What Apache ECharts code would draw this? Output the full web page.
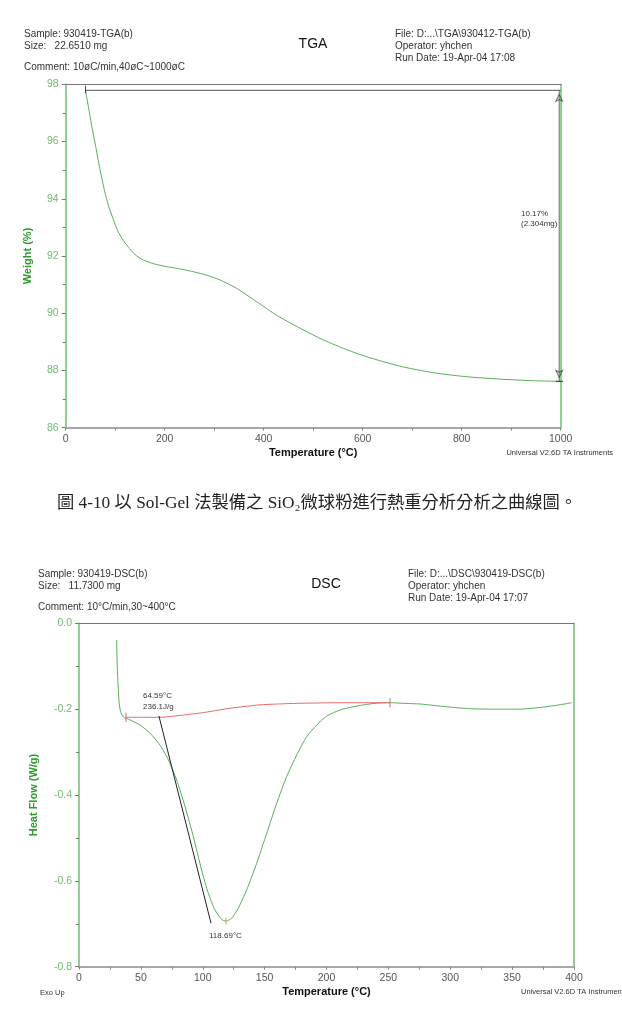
<!DOCTYPE html>
<html>
<head>
<meta charset="utf-8">
<script src="https://cdn.jsdelivr.net/npm/echarts@6/dist/echarts.min.js"></script>
<style>
html,body{margin:0;padding:0;background:#fff;}
#c{width:622px;height:1011px;}
</style>
</head>
<body>
<div id="c"></div>
<script>
// ---------------- DATA ----------------
// TGA: temperature (°C) vs weight (%)
const tgaTemp   = [40, 46, 52, 60, 69, 79, 86, 93, 100, 106, 116, 127, 137, 150, 164, 180, 200, 220, 240, 258, 285, 312, 345, 386, 426, 473, 514, 561, 608, 675, 743, 810, 877, 945, 1000];
const tgaWeight = [97.79, 97.2, 96.6, 95.88, 95.05, 94.24, 93.78, 93.43, 93.1, 92.85, 92.55, 92.3, 92.1, 91.92, 91.81, 91.72, 91.64, 91.58, 91.52, 91.45, 91.33, 91.16, 90.87, 90.40, 89.93, 89.48, 89.12, 88.77, 88.48, 88.15, 87.92, 87.78, 87.70, 87.64, 87.62];
// TGA step annotation
const tgaStepStartT = 40;
const tgaStepTopW = 97.79;
const tgaStepMarkerT = 997;
const tgaStepBottomW = 87.62;

// DSC: temperature (°C) vs heat flow (W/g)
const dscTemp = [30.4, 30.8, 31.5, 32.3, 33.5, 35.8, 41.2, 49.3, 57.4, 65.5, 72.2, 78.9, 85.7, 92.4, 99.1, 104.5, 109.9, 115.3, 118.8, 123.4, 128.7, 135.5, 143.6, 151.7, 159.8, 167.8, 175.9, 184, 192.1, 200.2, 210.9, 219, 230, 240.6, 251.3, 262, 275.6, 289, 302.5, 316, 329.5, 343, 356.4, 372.5, 386, 398.1];
const dscHeat = [-0.039, -0.09, -0.14, -0.18, -0.205, -0.218, -0.225, -0.237, -0.256, -0.284, -0.318, -0.365, -0.427, -0.497, -0.575, -0.629, -0.668, -0.690, -0.694, -0.687, -0.664, -0.621, -0.559, -0.489, -0.419, -0.357, -0.307, -0.264, -0.237, -0.216, -0.202, -0.196, -0.19, -0.186, -0.185, -0.1865, -0.188, -0.192, -0.196, -0.199, -0.2, -0.2, -0.2, -0.196, -0.191, -0.185];
// DSC integration baseline
const dscBaseTemp = [38, 65.5, 84.3, 100.5, 122, 146.3, 175.9, 213.6, 251.3];
const dscBaseHeat = [-0.219, -0.219, -0.2137, -0.208, -0.198, -0.19, -0.1865, -0.185, -0.185];
// DSC onset tangent & peak
const dscOnset = [64.59, -0.216];
const dscTangentEnd = [106.7, -0.699];
const dscPeak = [118.69, -0.694];

// tick settings
const tgaXTicks = {min: 0, max: 1000, interval: 200};
const tgaYTicks = {min: 86, max: 98, interval: 2};
const dscXTicks = {min: 0, max: 400, interval: 50};
const dscYTicks = {min: -0.8, max: 0.0, interval: 0.2};

// ---------------- STYLE ----------------
const GREEN = '#55b055';
const GREEN_AXIS = '#6cc06c';
const GREEN_LABEL = '#72b872';
const GREEN_NAME = '#2f9a2f';
const RED = '#e36a6a';
const FONT = '"Liberation Sans", Arial, sans-serif';

const zip = (a, b) => a.map((v, i) => [v, b[i]]);

function bottomAxis(grid, t, name) {
  return {
    type: 'value', gridIndex: grid, position: 'bottom',
    min: t.min, max: t.max, interval: t.interval,
    axisLine: {show: true, onZero: false, lineStyle: {color: '#a8a8a8', width: 2}},
    axisTick: {show: true, length: 3, lineStyle: {color: '#888'}},
    minorTick: {show: true, splitNumber: 2, length: 3, lineStyle: {color: '#888'}},
    splitLine: {show: false},
    axisLabel: {color: '#555', fontSize: 10.5, fontFamily: FONT, margin: 6, formatter: v => String(v)},
    name: name, nameLocation: 'middle', nameGap: 20,
    nameTextStyle: {color: '#111', fontWeight: 'bold', fontSize: 11, fontFamily: FONT}
  };
}
function topAxis(grid, t) {
  return {
    type: 'value', gridIndex: grid, position: 'top',
    min: t.min, max: t.max, interval: t.interval,
    axisLine: {show: true, onZero: false, lineStyle: {color: '#777', width: 1}},
    axisTick: {show: false}, axisLabel: {show: false}, splitLine: {show: false}
  };
}
function leftAxis(grid, t, name, gap, fmt) {
  return {
    type: 'value', gridIndex: grid, position: 'left',
    min: t.min, max: t.max, interval: t.interval,
    axisLine: {show: true, onZero: false, lineStyle: {color: GREEN_AXIS, width: 1.5}},
    axisTick: {show: true, length: 4, lineStyle: {color: '#777'}},
    minorTick: {show: true, splitNumber: 2, length: 3, lineStyle: {color: '#777'}},
    splitLine: {show: false},
    axisLabel: {color: GREEN_LABEL, fontSize: 10.5, fontFamily: FONT, margin: 7, formatter: fmt},
    name: name, nameLocation: 'middle', nameGap: gap, nameRotate: 90,
    nameTextStyle: {color: GREEN_NAME, fontWeight: 'bold', fontSize: 11, fontFamily: FONT}
  };
}
function rightAxis(grid, t) {
  return {
    type: 'value', gridIndex: grid, position: 'right',
    min: t.min, max: t.max, interval: t.interval,
    axisLine: {show: true, onZero: false, lineStyle: {color: GREEN_AXIS, width: 1.5}},
    axisTick: {show: false}, axisLabel: {show: false}, splitLine: {show: false}
  };
}

function txt(x, y, text, size, opt) {
  opt = opt || {};
  return {
    type: 'text', x: x, y: y, silent: true, z: 100,
    style: {
      text: text, fill: opt.color || '#333', fontSize: size,
      fontFamily: opt.family || FONT, fontWeight: opt.weight || 'normal',
      textAlign: opt.align || 'left', align: opt.align || 'left',
      textVerticalAlign: 'middle', verticalAlign: 'middle'
    }
  };
}

function seg(name, xi, yi, pts, color, width, extra) {
  return Object.assign({
    name: name, type: 'line', xAxisIndex: xi, yAxisIndex: yi,
    data: pts, symbol: 'none', silent: true, animation: false,
    lineStyle: {color: color, width: width}
  }, extra || {});
}

const chart = echarts.init(document.getElementById('c'), null, {renderer: 'canvas'});

const option = {
  backgroundColor: '#fff',
  animation: false,
  grid: [
    {left: 65.7, right: 61.3, top: 84.3, height: 343.4, containLabel: false},
    {left: 79, right: 48, top: 623.3, height: 343.4, containLabel: false}
  ],
  xAxis: [
    bottomAxis(0, tgaXTicks, 'Temperature (°C)'),
    topAxis(0, tgaXTicks),
    bottomAxis(1, dscXTicks, 'Temperature (°C)'),
    topAxis(1, dscXTicks)
  ],
  yAxis: [
    leftAxis(0, tgaYTicks, 'Weight (%)', 32, v => String(Math.round(v))),
    rightAxis(0, tgaYTicks),
    leftAxis(1, dscYTicks, 'Heat Flow (W/g)', 40, v => v.toFixed(1)),
    rightAxis(1, dscYTicks)
  ],
  series: [
    // TGA curve
    seg('TGA', 0, 0, zip(tgaTemp, tgaWeight), GREEN, 1, {smooth: 0.2, z: 5}),
    // TGA step annotation
    seg('stepTop', 0, 0, [[tgaStepStartT, tgaStepTopW], [tgaXTicks.max, tgaStepTopW]], '#555', 1, {z: 6}),
    seg('stepStartTick', 0, 0, [[tgaStepStartT, tgaStepTopW + 0.16], [tgaStepStartT, tgaStepTopW - 0.1]], '#444', 1, {z: 6}),
    seg('stepVert', 0, 0, [[tgaStepMarkerT, tgaStepTopW], [tgaStepMarkerT, tgaStepBottomW]], '#666', 1, {z: 6}),
    seg('stepBottomTick', 0, 0, [[tgaStepMarkerT - 7, tgaStepBottomW], [tgaStepMarkerT + 8, tgaStepBottomW]], '#333', 1, {z: 6}),
    {
      name: 'arrows', type: 'scatter', xAxisIndex: 0, yAxisIndex: 0, silent: true, z: 7,
      symbol: 'arrow', symbolSize: [5, 7],
      itemStyle: {color: 'rgba(0,0,0,0)', borderColor: '#444', borderWidth: 1},
      data: [
        {value: [tgaStepMarkerT, tgaStepTopW], symbolRotate: 0, symbolOffset: [0, 4]},
        {value: [tgaStepMarkerT, tgaStepBottomW], symbolRotate: 180, symbolOffset: [0, -4]}
      ]
    },
    // DSC curve
    seg('DSC', 2, 2, zip(dscTemp, dscHeat), GREEN, 1, {smooth: 0.2, z: 5}),
    // DSC baseline
    seg('baseline', 2, 2, zip(dscBaseTemp, dscBaseHeat), RED, 1, {smooth: 0.2, z: 6}),
    seg('baseStartTick', 2, 2, [[dscBaseTemp[0], dscBaseHeat[0] + 0.011], [dscBaseTemp[0], dscBaseHeat[0] - 0.011]], RED, 1, {z: 6}),
    seg('baseEndTick', 2, 2, [[dscBaseTemp[dscBaseTemp.length - 1], dscBaseHeat[dscBaseHeat.length - 1] + 0.011], [dscBaseTemp[dscBaseTemp.length - 1], dscBaseHeat[dscBaseHeat.length - 1] - 0.011]], RED, 1, {z: 6}),
    seg('peakTick', 2, 2, [[dscPeak[0], dscPeak[1] + 0.008], [dscPeak[0], dscPeak[1] - 0.008]], '#e8907a', 1, {z: 6}),
    // onset tangent
    seg('tangent', 2, 2, [dscOnset, dscTangentEnd], '#222', 1, {z: 7})
  ],
  graphic: [
    // TGA header
    txt(24, 34, 'Sample: 930419-TGA(b)', 10),
    txt(24, 46, 'Size:   22.6510 mg', 10),
    txt(24, 67, 'Comment: 10øC/min,40øC~1000øC', 10),
    txt(313, 44, 'TGA', 14, {align: 'center', color: '#111'}),
    txt(395, 34, 'File: D:...\\TGA\\930412-TGA(b)', 10),
    txt(395, 46, 'Operator: yhchen', 10),
    txt(395, 58, 'Run Date: 19-Apr-04 17:08', 10),
    txt(521, 213.5, '10.17%', 8),
    txt(521, 224, '(2.304mg)', 8),
    txt(613, 452.5, 'Universal V2.6D TA Instruments', 7.5, {align: 'right'}),
    // caption
    {
      type: 'text', x: 317, y: 503, silent: true, z: 100,
      style: {
        text: '圖 4-10 以 Sol-Gel 法製備之 SiO₂微球粉進行熱重分析分析之曲線圖。',
        fill: '#222', fontSize: 17.3,
        fontFamily: '"Liberation Serif", "Noto Sans CJK TC", serif',
        textAlign: 'center', align: 'center', textVerticalAlign: 'middle', verticalAlign: 'middle'
      }
    },
    // DSC header
    txt(38, 574, 'Sample: 930419-DSC(b)', 10),
    txt(38, 586, 'Size:   11.7300 mg', 10),
    txt(38, 607, 'Comment: 10°C/min,30~400°C', 10),
    txt(326, 584, 'DSC', 14, {align: 'center', color: '#111'}),
    txt(408, 574, 'File: D:...\\DSC\\930419-DSC(b)', 10),
    txt(408, 586, 'Operator: yhchen', 10),
    txt(408, 598, 'Run Date: 19-Apr-04 17:07', 10),
    txt(143, 696, '64.59°C', 8),
    txt(143, 706.5, '236.1J/g', 8),
    txt(209, 936, '118.69°C', 8),
    txt(40, 992.5, 'Exo Up', 7.5),
    txt(521, 992, 'Universal V2.6D TA Instruments', 7.5)
  ]
};

chart.setOption(option);
</script>
</body>
</html>
